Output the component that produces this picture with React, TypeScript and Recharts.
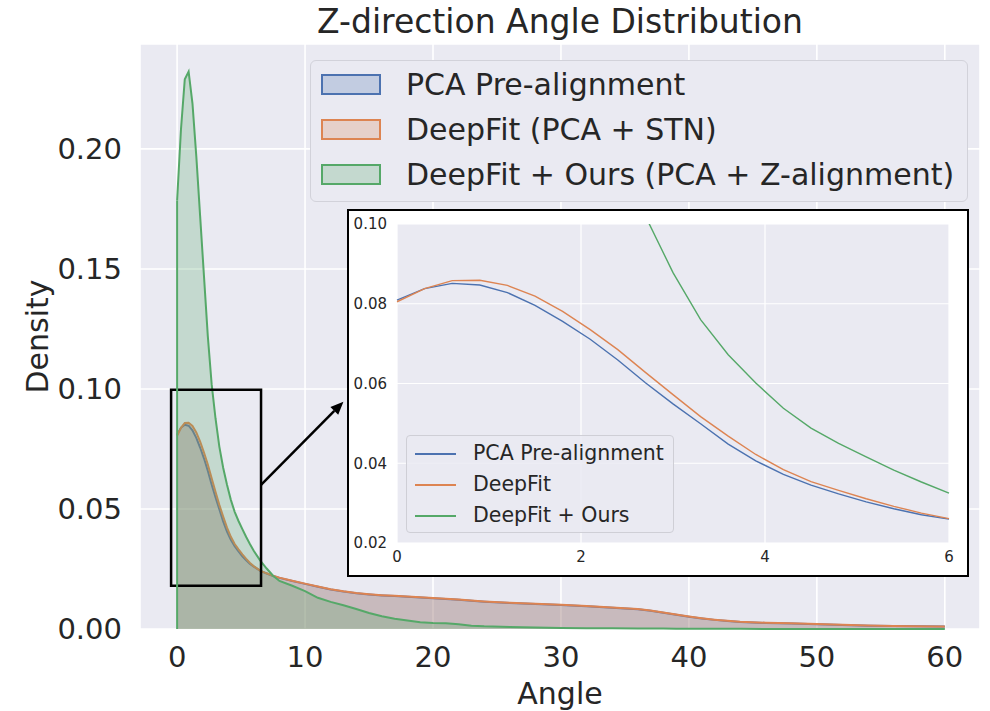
import { ComposedChart, Area, LineChart, Line, XAxis, YAxis, CartesianGrid, ReferenceArea, ReferenceLine } from "recharts";

const FONT = '"DejaVu Sans", sans-serif';
const INK = "#262626";
const PANEL = "#EAEAF2";

// KDE evaluation points (angle, degrees)
const angles = [
  0, 0.3, 0.6, 0.9, 1.2, 1.5, 1.8, 2.1, 2.4, 2.7, 3.0, 3.3, 3.6, 3.9, 4.2, 4.5, 4.8, 5.1, 5.4, 5.7, 6.0,
  6.5, 7, 7.5, 8, 9, 10, 11, 12, 13, 14, 15, 16, 17, 18, 19, 20, 21, 22, 23, 24, 26, 28, 30, 32, 34, 36,
  37, 38, 39, 40, 41, 42, 43, 44, 46, 48, 50, 52, 54, 56, 58, 60,
];

const pcaDensity = [
  0.0809, 0.0838, 0.0851, 0.0847, 0.0828, 0.0796, 0.0756, 0.0711, 0.0659, 0.0602, 0.0549, 0.0499, 0.0448, 0.0406, 0.0372, 0.0345, 0.0323, 0.0303, 0.0286, 0.0271, 0.026,
  0.0242, 0.0231, 0.0221, 0.0213, 0.02, 0.0188, 0.0176, 0.0165, 0.0156, 0.0149, 0.0144, 0.014, 0.0137, 0.0134, 0.0131, 0.0128, 0.0125, 0.0122, 0.0118, 0.0114, 0.0108, 0.0104, 0.01, 0.0095, 0.0089, 0.0082,
  0.0076, 0.0068, 0.0059, 0.0051, 0.0044, 0.0038, 0.0033, 0.0029, 0.0025, 0.0023, 0.002, 0.0017, 0.0014, 0.0012, 0.0011, 0.001,
];

const deepfitDensity = [
  0.0805, 0.0838, 0.0858, 0.0859, 0.0846, 0.0819, 0.0781, 0.0735, 0.0685, 0.0628, 0.0572, 0.0517, 0.0468, 0.0422, 0.0384, 0.0354, 0.0332, 0.0311, 0.0292, 0.0275, 0.0261,
  0.0243, 0.0232, 0.0222, 0.0214, 0.0201, 0.0189, 0.0177, 0.0166, 0.0157, 0.015, 0.0145, 0.0141, 0.0138, 0.0135, 0.0132, 0.0129, 0.0126, 0.0123, 0.0119, 0.0115, 0.0109, 0.0105, 0.0101, 0.0096, 0.009, 0.0083,
  0.0077, 0.0069, 0.006, 0.0052, 0.0045, 0.0039, 0.0034, 0.003, 0.0026, 0.0024, 0.0021, 0.0018, 0.0015, 0.0012, 0.0011, 0.001,
];

const oursDensity = [
  0.1785, 0.208, 0.229, 0.2322, 0.219, 0.197, 0.172, 0.147, 0.122, 0.102, 0.0878, 0.076, 0.0672, 0.0601, 0.0538, 0.0488, 0.045, 0.0416, 0.0383, 0.0353, 0.0325,
  0.0285, 0.0252, 0.0222, 0.02, 0.018, 0.0158, 0.013, 0.0113, 0.0099, 0.0083, 0.0067, 0.0053, 0.0043, 0.0035, 0.0028, 0.0025, 0.0024, 0.002, 0.0014, 0.0011, 0.0008, 0.0006, 0.0004, 0.0003, 0.0003, 0.0002,
  0.0002, 0.0002, 0.0001, 0.0001, 0.0001, 0.0001, 0.0001, 0.0001, 0, 0, 0, 0, 0, 0, 0, 0,
];

const xTicks = [0, 10, 20, 30, 40, 50, 60];
const yTicks = [0, 0.05, 0.1, 0.15, 0.2];
const insetXTicks = [0, 2, 4, 6];
const insetYTicks = [0.02, 0.04, 0.06, 0.08, 0.1];

const series = [
  { key: "pca", name: "PCA Pre-alignment", short: "PCA Pre-alignment", color: "#4C72B0" },
  { key: "deepfit", name: "DeepFit (PCA + STN)", short: "DeepFit", color: "#DD8452" },
  { key: "ours", name: "DeepFit + Ours (PCA + Z-alignment)", short: "DeepFit + Ours", color: "#55A868" },
];

const rows = angles.map((angle, i) => ({
  angle,
  pca: pcaDensity[i],
  deepfit: deepfitDensity[i],
  ours: oursDensity[i],
}));
const insetRows = rows.filter((r) => r.angle <= 6);

// zoom window drawn on the main plot
const zoomBox = { x1: -0.47, x2: 6.56, y1: 0.018, y2: 0.0997 };
const arrowFrom = { x: 6.56, y: 0.06 };
const arrowTo = { x: 13.0, y: 0.0947 };

const Arrow = (p: any) => {
  const { x1, y1, x2, y2 } = p;
  const a = Math.atan2(y2 - y1, x2 - x1);
  const L = 13;
  const W = 5.5;
  const bx = x2 - L * Math.cos(a);
  const by = y2 - L * Math.sin(a);
  const pts = `${x2},${y2} ${bx + W * Math.sin(a)},${by - W * Math.cos(a)} ${bx - W * Math.sin(a)},${by + W * Math.cos(a)}`;
  return (
    <g>
      <line x1={x1} y1={y1} x2={bx} y2={by} stroke="#000" strokeWidth={2.5} />
      <polygon points={pts} fill="#000" />
    </g>
  );
};

const tickStyle = { fontFamily: FONT, fontSize: 29, fill: INK };
const insetTick = { fontFamily: FONT, fontSize: 15, fill: INK };

export default function App() {
  return (
    <div style={{ position: "absolute", left: 0, top: 0, width: 990, height: 711, background: "#fff", overflow: "hidden", fontFamily: FONT }}>
      <div style={{ position: "absolute", left: 140, top: 5, width: 840, textAlign: "center", fontSize: 33, lineHeight: 1, color: INK }}>
        Z-direction Angle Distribution
      </div>

      <ComposedChart width={990} height={711} data={rows} margin={{ top: 44, right: 10, bottom: 0, left: 0 }}>
        <CartesianGrid fill={PANEL} stroke="#fff" strokeWidth={1.6} />
        <XAxis
          dataKey="angle"
          type="number"
          domain={[-2.9, 62.75]}
          ticks={xTicks}
          height={82}
          axisLine={false}
          tickLine={false}
          tickSize={0}
          tickMargin={17}
          tick={tickStyle}
          label={{ value: "Angle", position: "insideBottom", offset: 7, style: { fontFamily: FONT, fontSize: 30, fill: INK } }}
        />
        <YAxis
          type="number"
          domain={[0, 0.2437]}
          ticks={yTicks}
          width={140}
          axisLine={false}
          tickLine={false}
          tickSize={0}
          tickMargin={18}
          tick={tickStyle}
          tickFormatter={(v: number) => v.toFixed(2)}
          label={{ value: "Density", angle: -90, position: "insideLeft", offset: 37, style: { fontFamily: FONT, fontSize: 30, fill: INK, textAnchor: "middle" } }}
        />
        {series.map((s) => (
          <Area
            key={s.key}
            type="linear"
            dataKey={s.key}
            name={s.name}
            stroke={s.color}
            strokeWidth={2}
            fill={s.color}
            fillOpacity={0.25}
            dot={false}
            activeDot={false}
            baseValue={0}
            isAnimationActive={false}
          />
        ))}
        <ReferenceLine
          segment={[{ x: 0, y: 0 }, { x: 0, y: oursDensity[0] }]}
          stroke="#55A868"
          strokeWidth={2}
        />
        <ReferenceArea
          x1={zoomBox.x1}
          x2={zoomBox.x2}
          y1={zoomBox.y1}
          y2={zoomBox.y2}
          fill="none"
          fillOpacity={0}
          stroke="#000"
          strokeWidth={2.5}
        />
        <ReferenceLine segment={[arrowFrom, arrowTo]} shape={Arrow} />
      </ComposedChart>

      {/* main legend */}
      <div
        style={{
          position: "absolute",
          left: 310,
          top: 60,
          width: 658,
          height: 142,
          boxSizing: "border-box",
          background: PANEL,
          border: "1.5px solid #d2d2da",
          borderRadius: 6,
          paddingTop: 1,
        }}
      >
        {series.map((s) => (
          <div key={s.key} style={{ position: "relative", height: 45, lineHeight: "45px", fontSize: 30, color: INK }}>
            <span
              style={{
                position: "absolute",
                left: 10,
                top: 12,
                width: 60,
                height: 21,
                boxSizing: "border-box",
                border: `2px solid ${s.color}`,
                background: s.color + "40",
              }}
            />
            <span style={{ position: "absolute", left: 95, top: 0, whiteSpace: "nowrap" }}>{s.name}</span>
          </div>
        ))}
      </div>

      {/* zoomed inset */}
      <div
        style={{
          position: "absolute",
          left: 347,
          top: 209,
          width: 622,
          height: 368,
          boxSizing: "border-box",
          border: "2px solid #000",
          background: "#fff",
        }}
      >
        <LineChart width={618} height={364} data={insetRows} margin={{ top: 13, right: 18, bottom: 0, left: 0 }}>
          <CartesianGrid fill={PANEL} stroke="#fff" strokeWidth={1.2} />
          <XAxis
            dataKey="angle"
            type="number"
            domain={[0, 6]}
            ticks={insetXTicks}
            height={32}
            axisLine={false}
            tickLine={false}
            tickSize={0}
            tickMargin={8}
            tick={insetTick}
          />
          <YAxis
            type="number"
            domain={[0.02, 0.1]}
            ticks={insetYTicks}
            allowDataOverflow
            width={48}
            axisLine={false}
            tickLine={false}
            tickSize={0}
            tickMargin={10}
            tick={insetTick}
            tickFormatter={(v: number) => v.toFixed(2)}
          />
          {series.map((s) => (
            <Line
              key={s.key}
              type="linear"
              dataKey={s.key}
              name={s.short}
              stroke={s.color}
              strokeWidth={1.4}
              dot={false}
              activeDot={false}
              isAnimationActive={false}
            />
          ))}
        </LineChart>
        <div
          style={{
            position: "absolute",
            left: 57,
            top: 224,
            width: 268,
            height: 98,
            boxSizing: "border-box",
            background: "rgba(234,234,242,0.85)",
            border: "1px solid #cfcfd6",
            borderRadius: 4,
            paddingTop: 2,
          }}
        >
          {series.map((s) => (
            <div key={s.key} style={{ position: "relative", height: 31, lineHeight: "31px", fontSize: 20.5, color: INK }}>
              <div style={{ position: "absolute", left: 8, top: 15, width: 41, height: 2, background: s.color }} />
              <span style={{ position: "absolute", left: 66, top: 0, whiteSpace: "nowrap" }}>{s.short}</span>
            </div>
          ))}
        </div>
      </div>
    </div>
  );
}
